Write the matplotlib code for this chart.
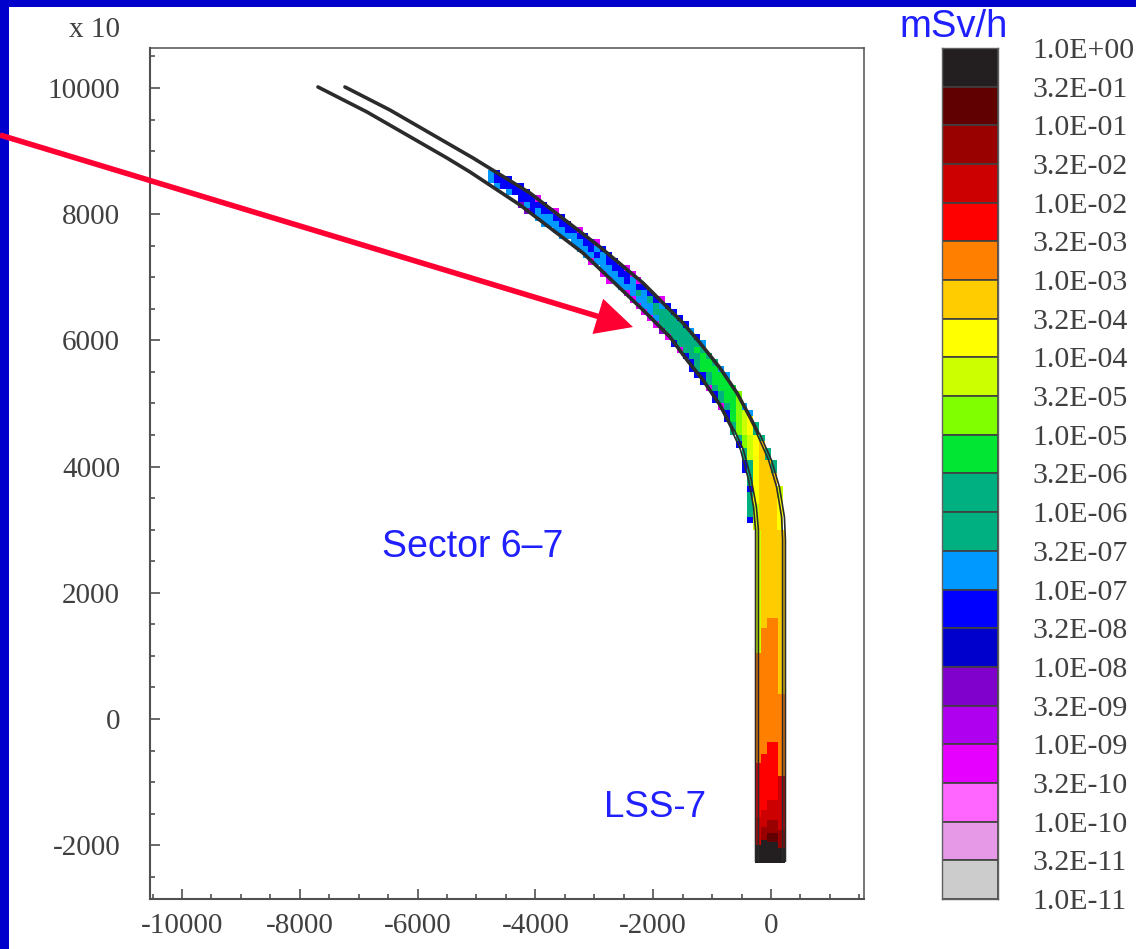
import matplotlib
matplotlib.use("Agg")
import matplotlib.pyplot as plt
import numpy as np
from matplotlib.patches import Rectangle
from matplotlib.ticker import MultipleLocator

# Colour scale, top box first
scale_labels = ["1.0E+00", "3.2E-01", "1.0E-01", "3.2E-02", "1.0E-02", "3.2E-03",
                "1.0E-03", "3.2E-04", "1.0E-04", "3.2E-05", "1.0E-05", "3.2E-06",
                "1.0E-06", "3.2E-07", "1.0E-07", "3.2E-08", "1.0E-08", "3.2E-09",
                "1.0E-09", "3.2E-10", "1.0E-10", "3.2E-11", "1.0E-11"]
scale_colors = ["#231f20", "#600000", "#990000", "#cc0000", "#ff0000", "#ff8000",
                "#ffcc00", "#ffff00", "#ccff00", "#80ff00", "#00e633", "#00b080",
                "#00b080", "#0099ff", "#0000ff", "#0000cc", "#8000cc", "#b000f0",
                "#e600ff", "#ff66ff", "#e699e6", "#cccccc"]
scale_codes = "kDECroaycvGtTlbdpqmnfs"

# Tunnel walls
wall_left_x = [-238, -238, -272, -357, -492, -645, -866, -1155, -1426, -1715, -2173,
               -3192, -4261, -5110, -5501, -6859, -7691]
wall_left_y = [-2266, 2995, 3360, 3788, 4263, 4580, 4976, 5372, 5689, 6054, 6482,
               7385, 8146, 8669, 8891, 9620, 10016]
wall_right_x = [221, 221, 204, 119, -17, -221, -357, -577, -866, -1205, -1494,
                -2173, -2903, -4092, -5059, -6469, -7233]
wall_right_y = [-2266, 2837, 3201, 3677, 4105, 4532, 4786, 5166, 5563, 5959, 6276,
                6910, 7480, 8336, 8891, 9651, 10016]

# Curved part of the map: row centre y, first cell x, one code per cell (w = empty)
map_y = [8650, 8550, 8450, 8350, 8250, 8150, 8050, 7950, 7850, 7750, 7650, 7550,
         7450, 7350, 7250, 7150, 7050, 6950, 6850, 6750, 6650, 6550, 6450, 6350,
         6250, 6150, 6050, 5950, 5850, 5750, 5650, 5550, 5450, 5350, 5250, 5150,
         5050, 4950, 4850, 4750, 4650, 4550, 4450, 4350, 4250, 4150, 4050, 3950,
         3850, 3750, 3650, 3550, 3450, 3350, 3250, 3150, 3050]
map_start = [-4800, -4800, -4700, -4600, -4500, -4300, -4200, -4000, -3900, -3800, -3600, -3500,
             -3300, -3200, -3100, -3000, -2900, -2800, -2600, -2500, -2400, -2300, -2200, -2100,
             -2000, -1900, -1800, -1700, -1600, -1500, -1400, -1400, -1300, -1200, -1100, -1000,
             -1000, -900, -800, -800, -700, -700, -600, -600, -500, -500, -500, -500,
             -400, -400, -400, -400, -400, -400, -400, -400, -400]
map_cells = ["lb", "lbbb", "lbbbb", "wlbbb", "wwbbbm", "plbbb", "pblbbm", "lllbb",
             "lllbb", "wllbbm", "lllbb", "wllbbm", "llblb", "llblb", "mllbb", "wllbbm",
             "mllbbm", "mllblm", "lllbb", "mltlb", "mlltbm", "mlltlb", "mltttb", "mltttb",
             "mttttb", "pttttl", "mttttb", "bttttl", "mttGt", "bttGt", "btGGt", "btGGGl",
             "bbtGGl", "btGGG", "mtGGG", "btGGv", "btGGv", "mtGvl", "bGvcl", "bGvcy",
             "tvcyt", "tvcyt", "tvcyt", "bvcya", "tcyat", "tcyat", "btyaat", "btyaat",
             "tyaaa", "tyaaa", "byaaac", "tyaaac", "tyaaay", "tcaaay", "tcaaay", "bcaaay",
             "wcaaay"]

# Straight part of the map: column edges, then for each column the levels and their lower limits
col_edges = [-272, -170, -68, 119, 238]
col_top = 3000
col_codes = ["corCk", "aorCEk", "aorCEDk", "aoCEk"]
col_limits = [[1046, -697, -1553, -1997, -2290],
              [1442, -555, -1442, -1712, -1918, -2290],
              [1600, -365, -1284, -1600, -1807, -1950, -2290],
              [396, -903, -1760, -2044, -2290]]

x_ticks = [-10000, -8000, -6000, -4000, -2000, 0]
y_ticks = [-2000, 0, 2000, 4000, 6000, 8000, 10000]

W, H = 1136, 949
grey = "#404040"
blue = "#2020ff"
plt.rcParams["font.family"] = ["Liberation Serif", "DejaVu Serif"]

fig = plt.figure(figsize=(W / 100, H / 100), dpi=100)


def box(left, top, right, bottom):
    return [left / W, 1 - bottom / H, (right - left) / W, (bottom - top) / H]


# Blue slide border
fig.add_artist(Rectangle((0, 1 - 7 / H), 1, 7 / H, transform=fig.transFigure, color="#0000cc", lw=0, zorder=-1))
fig.add_artist(Rectangle((0, 0), 9 / W, 1, transform=fig.transFigure, color="#0000cc", lw=0, zorder=-1))

ax = fig.add_axes(box(150, 48, 864, 899))
ax.patch.set_alpha(0)
ax.set_xlim(-10543, 1579)
ax.set_ylim(-2853, 10634)

color_of = dict(zip(scale_codes, scale_colors))

for y, start, cells in zip(map_y, map_start, map_cells):
    for i, code in enumerate(cells):
        if code != "w":
            ax.bar(start + 100 * i, 100, width=100, bottom=y - 50, align="edge",
                   color=color_of[code], linewidth=0, zorder=2)

for i, (codes, limits) in enumerate(zip(col_codes, col_limits)):
    upper = col_top
    for code, lower in zip(codes, limits):
        ax.bar(col_edges[i], upper - lower, width=col_edges[i + 1] - col_edges[i], bottom=lower,
               align="edge", color=color_of[code], linewidth=0, zorder=2)
        upper = lower

# Walls are one thick line in the arc, two thin skins near the straight part
wall_color = "#2b2b2b"
split = 5
for xs, ys in [(wall_left_x, wall_left_y), (wall_right_x, wall_right_y)]:
    xs, ys = np.array(xs), np.array(ys)
    ax.plot(xs[split:], ys[split:], color=wall_color, lw=2.6, zorder=3, solid_capstyle="round")
    ax.plot(xs[:split + 1] - 24, ys[:split + 1], color=wall_color, lw=1.2, zorder=3, solid_capstyle="butt")
    ax.plot(xs[:split + 1] + 24, ys[:split + 1], color=wall_color, lw=1.2, zorder=3, solid_capstyle="butt")

ax.set_xticks(x_ticks)
ax.set_yticks(y_ticks)
ax.xaxis.set_minor_locator(MultipleLocator(500))
ax.yaxis.set_minor_locator(MultipleLocator(500))
ax.tick_params(which="major", direction="in", length=7.5, width=1.2, color="#505050",
               labelsize=21, labelcolor=grey)
ax.tick_params(which="minor", direction="in", length=3.5, width=1.2, color="#505050")
ax.tick_params(axis="x", which="major", pad=10)
ax.tick_params(axis="y", which="major", pad=21.5)
ax.set_xticklabels([str(t) for t in x_ticks])
ax.set_yticklabels([str(t) for t in y_ticks])
for name, spine in ax.spines.items():
    spine.set_color("#505050")
    spine.set_linewidth(1.5 if name in ("left", "bottom") else 1.1)

ax.text(-6604, 2720, "Sector 6\u20137", family="Liberation Sans", fontsize=27, color=blue, va="center", ha="left")
ax.text(-2835, -1400, "LSS-7", family="Liberation Sans", fontsize=26.5, color=blue, va="center", ha="left")

ax.annotate("", xy=(-2343, 6212), xytext=(0, 1 - 135 / H), textcoords="figure fraction",
            annotation_clip=False, zorder=5,
            arrowprops=dict(arrowstyle="-|>,head_length=1.0,head_width=0.5", mutation_scale=20,
                            color="#ff0033", lw=4, shrinkA=0, shrinkB=0, joinstyle="miter", capstyle="butt"))

fig.text(120 / W, 1 - 30 / H, "x 10", fontsize=21, color=grey, ha="right", va="center")
fig.text(954 / W, 1 - 27 / H, "mSv/h", family="Liberation Sans", fontsize=27.5, color=blue, ha="center", va="center")

# Colour scale
cax = fig.add_axes(box(942, 48, 998, 899))
cax.set_xlim(0, 1)
cax.set_ylim(22, 0)
cax.bar(0, 1, width=1, bottom=np.arange(22), align="edge", color=scale_colors,
        edgecolor="#404040", linewidth=1.2)
cax.set_xticks([])
cax.yaxis.tick_right()
cax.set_yticks(np.arange(23))
cax.set_yticklabels(scale_labels)
cax.tick_params(axis="y", length=0, pad=25, labelsize=21.5, labelcolor=grey)
for spine in cax.spines.values():
    spine.set_color("#606060")
    spine.set_linewidth(1)

fig.savefig("out.png", dpi=100)
